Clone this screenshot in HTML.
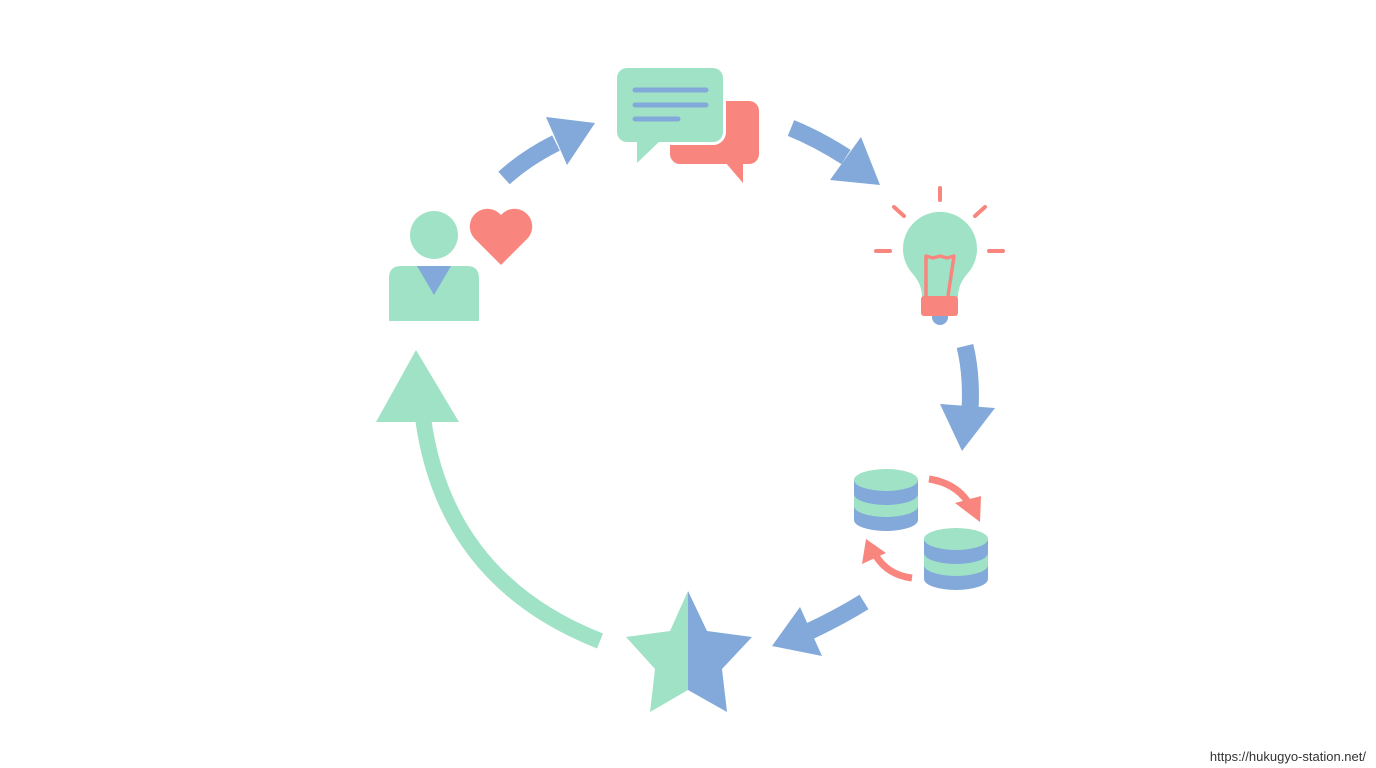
<!DOCTYPE html>
<html><head><meta charset="utf-8"><style>
html,body{margin:0;padding:0;background:#fff;width:1376px;height:768px;overflow:hidden}
svg{display:block}
</style></head><body>
<svg width="1376" height="768" viewBox="0 0 1376 768" xmlns="http://www.w3.org/2000/svg">
<!-- person -->
<circle cx="434" cy="235" r="24" fill="#a0e2c6"/>
<path d="M389 321 V278 Q389 266 401 266 H467 Q479 266 479 278 V321 Z" fill="#a0e2c6"/>
<polygon points="417,266 451,266 434,295" fill="#82a9d9"/>
<!-- heart -->
<path d="M501 265 L474 238 A16.5 16.5 0 1 1 501 215 A16.5 16.5 0 1 1 528 238 Z" fill="#f8867e"/>
<!-- arrow 1 -->
<path d="M504 178 Q526 158 556 143" stroke="#82a9d9" stroke-width="17" fill="none"/>
<polygon points="546,117 595,123 567,165" fill="#82a9d9"/>
<!-- bubbles -->
<rect x="670" y="101" width="89" height="63" rx="10" fill="#f8867e"/>
<polygon points="725,162 743,183 743,162" fill="#f8867e"/>
<rect x="617" y="68" width="106" height="74" rx="10" fill="#a0e2c6" stroke="#fff" stroke-width="6" paint-order="stroke"/>
<polygon points="637,140 637,163 661,140" fill="#a0e2c6"/>
<g stroke="#82a9d9" stroke-width="5" stroke-linecap="round">
<line x1="635" y1="90" x2="706" y2="90"/><line x1="635" y1="105" x2="706" y2="105"/><line x1="635" y1="119" x2="678" y2="119"/>
</g>
<!-- arrow 2 -->
<path d="M791 128 Q818 139 846 157" stroke="#82a9d9" stroke-width="17" fill="none"/>
<polygon points="861,137 880,185 830,180" fill="#82a9d9"/>
<!-- bulb -->
<g stroke="#f8867e" stroke-width="4" stroke-linecap="round">
<line x1="940" y1="188" x2="940" y2="200"/><line x1="894" y1="207" x2="904" y2="216"/><line x1="985" y1="207" x2="975" y2="216"/>
<line x1="876" y1="251" x2="890" y2="251"/><line x1="989" y1="251" x2="1003" y2="251"/>
</g>
<path d="M922 297 Q922 284 912 273 A37 37 0 1 1 968 273 Q958 284 958 297 Z" fill="#a0e2c6"/>
<circle cx="940" cy="317" r="8" fill="#82a9d9"/>
<rect x="921" y="296" width="37" height="20" rx="3" fill="#f8867e"/>
<path d="M926 296 L926 256 L933 258 L940 256 L947 258 L954 256 L948 296" stroke="#f8867e" stroke-width="3.5" fill="none" stroke-linejoin="round"/>
<!-- arrow 3 -->
<path d="M965 346 Q972 375 970 410" stroke="#82a9d9" stroke-width="17" fill="none"/>
<polygon points="940,404 995,408 962,451" fill="#82a9d9"/>
<!-- coins -->
<g>
<path d="M854 480 V520 A32 11 0 0 0 918 520 V480 Z" fill="#82a9d9"/>
<path d="M854 494 V506 A32 11 0 0 0 918 506 V494 A32 11 0 0 1 854 494 Z" fill="#a0e2c6"/>
<ellipse cx="886" cy="480" rx="32" ry="11" fill="#a0e2c6"/>
<path d="M924 539 V579 A32 11 0 0 0 988 579 V539 Z" fill="#82a9d9"/>
<path d="M924 553 V565 A32 11 0 0 0 988 565 V553 A32 11 0 0 1 924 553 Z" fill="#a0e2c6"/>
<ellipse cx="956" cy="539" rx="32" ry="11" fill="#a0e2c6"/>
</g>
<path d="M929 479 Q955 483 968 502" stroke="#f8867e" stroke-width="7" fill="none"/>
<polygon points="955,503 981,496 980,522" fill="#f8867e"/>
<path d="M912 578 Q888 575 876 556" stroke="#f8867e" stroke-width="7" fill="none"/>
<polygon points="862,564 866,539 886,553" fill="#f8867e"/>
<!-- arrow 4 -->
<path d="M864 602 Q838 618 808 632" stroke="#82a9d9" stroke-width="17" fill="none"/>
<polygon points="800,607 772,646 822,656" fill="#82a9d9"/>
<!-- star -->
<polygon points="688,591 670,631 626,637 655,669 650,712 688,690" fill="#a0e2c6"/>
<polygon points="688,591 707,631 752,637 722,669 727,712 688,690" fill="#82a9d9"/>
<!-- big green arrow -->
<path d="M600 641 Q445 580 423 418" stroke="#a0e2c6" stroke-width="16" fill="none"/>
<polygon points="376,422 459,422 416,350" fill="#a0e2c6"/>
<text x="1366" y="761" text-anchor="end" font-family="Liberation Sans, sans-serif" font-size="13" fill="#333">https://hukugyo-station.net/</text>
</svg>
</body></html>
